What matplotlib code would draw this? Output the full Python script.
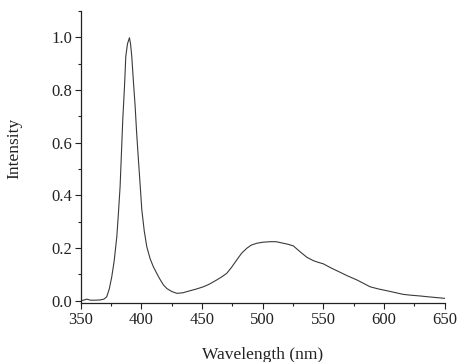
import matplotlib.pyplot as plt
from matplotlib.ticker import MultipleLocator
import numpy as np

# Emission spectrum
wavelength = [350, 353, 355, 358, 362, 366, 369, 371.4, 373.5, 375.5, 377.5, 379.7, 381, 382.4,
              383.5, 384.6, 386, 387.1, 388.5, 390.1, 391, 392, 393.4, 394.8, 396, 397.5, 399,
              400.3, 402.3, 404.4, 407.1, 409.8, 412.6, 414.8, 418.1, 421, 425, 429.1, 434,
              440.1, 445, 451.1, 456, 462.1, 466, 470.3, 474, 478.6, 482.5, 486.8, 490.5, 495,
              500, 506, 511, 517, 521, 525.2, 530.7, 536.3, 541.7, 545.5, 549.9, 556, 563.7,
              570, 577.5, 583, 588.4, 595, 602.2, 609, 615.9, 622, 629.7, 636, 643, 650]
intensity = [0.000, 0.003, 0.006, 0.002, 0.002, 0.003, 0.006, 0.015, 0.045, 0.09, 0.15, 0.243, 0.33, 0.433,
             0.56, 0.687, 0.81, 0.928, 0.975, 0.998, 0.975, 0.928, 0.83, 0.738, 0.64, 0.535, 0.435,
             0.345, 0.265, 0.205, 0.16, 0.129, 0.104, 0.085, 0.06, 0.046, 0.035, 0.028, 0.030,
             0.038, 0.044, 0.053, 0.063, 0.079, 0.09, 0.104, 0.125, 0.155, 0.180, 0.199, 0.211, 0.218,
             0.222, 0.224, 0.224, 0.218, 0.214, 0.208, 0.186, 0.165, 0.152, 0.146, 0.14, 0.125, 0.108,
             0.094, 0.079, 0.066, 0.053, 0.045, 0.038, 0.031, 0.024, 0.021, 0.018, 0.015, 0.012, 0.009]

plt.rcParams['font.family'] = ['Liberation Serif', 'DejaVu Serif']

fig = plt.figure(figsize=(4.59, 3.62), dpi=100)
ax = fig.add_axes([0.176, 0.162, 0.793, 0.808])

ax.plot(wavelength, intensity, color='#3a3a3a', lw=0.8)

ax.set_xlim(350, 650)
ax.set_ylim(-0.01, 1.1)
ax.xaxis.set_major_locator(MultipleLocator(50))
ax.xaxis.set_minor_locator(MultipleLocator(25))
ax.yaxis.set_major_locator(MultipleLocator(0.2))
ax.yaxis.set_minor_locator(MultipleLocator(0.1))
ax.yaxis.set_major_formatter(plt.FormatStrFormatter('%.1f'))

for s in ['top', 'right']:
    ax.spines[s].set_visible(False)
for s in ['left', 'bottom']:
    ax.spines[s].set_linewidth(0.9)
    ax.spines[s].set_color('#222222')

ax.tick_params(which='major', direction='out', length=4, width=0.8, labelsize=12,
               colors='#222222', pad=2)
ax.tick_params(which='minor', direction='out', length=2.5, width=0.8, colors='#222222')

ax.set_xlabel('Wavelength (nm)', fontsize=12.5, color='#222222', labelpad=14)
ax.set_ylabel('Intensity', fontsize=12.5, color='#222222')
ax.yaxis.set_label_coords(-0.161, 0.531)

fig.savefig('out.png', dpi=100)
